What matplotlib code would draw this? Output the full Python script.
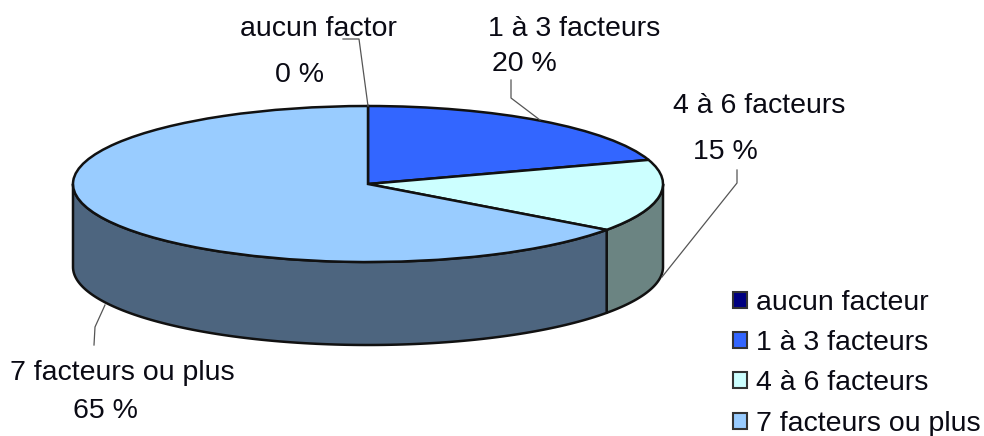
import numpy as np
import matplotlib
matplotlib.use('Agg')
import matplotlib.pyplot as plt
from matplotlib.patches import Patch

plt.rcParams['font.family'] = ['Liberation Sans', 'DejaVu Sans']

categories = ['aucun facteur', '1 à 3 facteurs', '4 à 6 facteurs', '7 facteurs ou plus']
values = [0, 20, 15, 65]
colors = ['#000080', '#3366ff', '#ccffff', '#99ccff']
side_colors = ['#000040', '#1f3d99', '#6b8482', '#4d657f']

W, H = 984, 436
CX, CY, RX, RY, DEPTH = 368, 184, 295, 78, 83
EDGE = '#111111'


def px(x, y):
    # pixel position to data units of the flattened pie
    return (x - CX) / RX, (CY - y) / RY


fig = plt.figure(figsize=(W / 100, H / 100), dpi=100)
ax = fig.add_axes([0, 0, 1, 1])

wedges, _ = ax.pie(values, colors=colors, startangle=90, counterclock=False, radius=1,
                   wedgeprops={'edgecolor': EDGE, 'linewidth': 1.8, 'zorder': 3})
ax.set_aspect('auto')
ax.set_xlim(-CX / RX, (W - CX) / RX)
ax.set_ylim((CY - H) / RY, CY / RY)
ax.axis('off')

# side wall of the slices that face the viewer
d = DEPTH / RY
cum = np.cumsum([0] + values) * 3.6
for i in range(len(values)):
    a0, a1 = max(cum[i], 90), min(cum[i + 1], 270)
    if a1 <= a0:
        continue
    t = np.radians(np.linspace(a0, a1, 120))
    xs = np.sin(t)
    ys = np.cos(t)
    ax.fill(np.r_[xs, xs[::-1]], np.r_[ys, ys[::-1] - d], facecolor=side_colors[i],
            edgecolor=EDGE, linewidth=1.8, zorder=2, joinstyle='round')

labels = [
    ('aucun factor', 318, 29), ('0 %', 299, 75),
    ('1 à 3 facteurs', 574, 29), ('20 %', 524, 64),
    ('4 à 6 facteurs', 759, 106), ('15 %', 725, 152),
    ('7 facteurs ou plus', 122, 373), ('65 %', 105, 411),
]
for s, x, y in labels:
    ax.text(*px(x, y), s, fontsize=20.5, color='#0a0a14', ha='center', va='center', zorder=5)

# leader lines
leaders = [
    [(343, 39), (359, 39), (368, 106)],
    [(511, 80), (511, 98), (540, 120)],
    [(737, 170), (737, 183), (662, 277)],
    [(94, 345), (95, 327), (105, 305)],
]
for pts in leaders:
    xy = np.array([px(*p) for p in pts])
    ax.plot(xy[:, 0], xy[:, 1], color='#555555', linewidth=0.9, zorder=4)

handles = [Patch(facecolor=c, edgecolor='#333333', linewidth=1.5) for c in colors]
ax.legend(handles, categories, loc='upper left', bbox_to_anchor=(733 / W, 1 - 290 / H),
          bbox_transform=fig.transFigure, frameon=False, fontsize=20.5, labelcolor='#0a0a14',
          handlelength=0.49, handleheight=0.49, handletextpad=0.32, labelspacing=0.5,
          borderpad=0, borderaxespad=0)

fig.savefig('out.png', dpi=100)
